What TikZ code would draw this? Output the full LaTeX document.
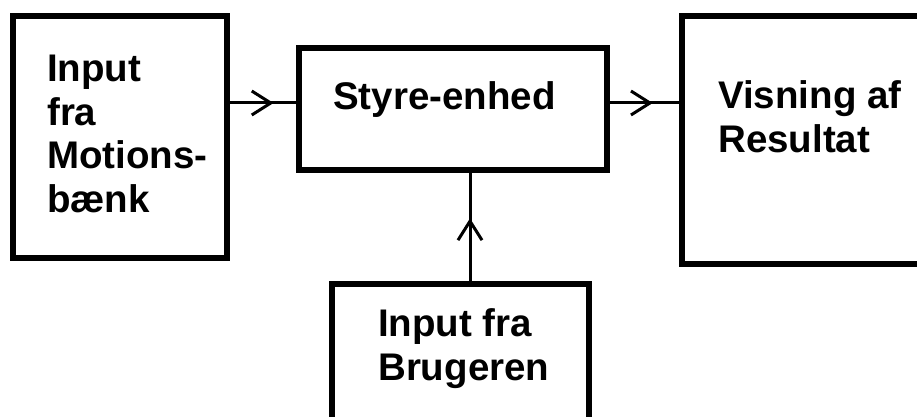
\documentclass[tikz,border=0pt]{standalone}
\usepackage{fontspec}
\setmainfont{Liberation Sans}
\usetikzlibrary{arrows.meta,decorations.markings}

\tikzset{
  block/.style={draw=black, line width=6pt, inner sep=0pt, fill=none},
  label/.style={anchor=base west, align=left, inner sep=0pt,
    font=\bfseries\fontsize{38.5}{43.5}\selectfont},
  flow/.style={line width=3pt, postaction={decorate},
    decoration={markings, mark=at position #1 with
      {\arrow{Straight Barb[length=19pt,width=24pt,line width=3pt]}}}},
}

\begin{document}
\begin{tikzpicture}[x=1pt,y=-1pt]
  \useasboundingbox (0,0) rectangle (917,417);
  \clip (0,0) rectangle (917,417);

  % boxes
  \node[block, minimum width=214pt, minimum height=242pt] (bench) at (120,137) {};
  \node[block, minimum width=308pt, minimum height=122pt] (ctrl)  at (453,109) {};
  \node[block, minimum width=278pt, minimum height=248pt] (show)  at (821,140) {};
  \node[block, minimum width=257pt, minimum height=176pt] (user)  at (460.5,372) {};

  % texts (anchored at the baseline of their last line)
  \node[label] (tbench) at (47,212)  {Input\\fra\\Motions-\\bænk};
  \node[label] (tctrl)  at (333,110) {Styre-enhed};
  \node[label] (tshow)  at (718,152) {Visning af\\Resultat};
  \node[label] (tuser)  at (378,380) {Input fra\\Brugeren};

  % connectors
  \coordinate (row) at (0,103);
  \coordinate (col) at (470,0);
  \draw[flow=0.66] (bench.east |- row) -- (ctrl.west |- row);
  \draw[flow=0.62] (ctrl.east |- row) -- (show.west |- row);
  \draw[flow=0.58] (user.north -| col) -- (ctrl.south -| col);
\end{tikzpicture}
\end{document}
